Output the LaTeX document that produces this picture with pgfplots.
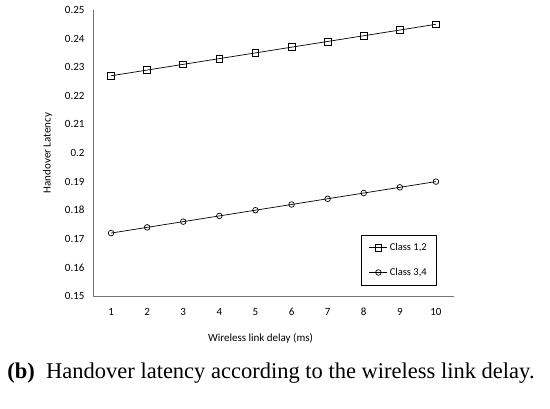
\documentclass[border=0pt]{standalone}
\usepackage{pgfplots}
\pgfplotsset{compat=1.18}
\usepackage{fontspec}
\setmainfont{Carlito}
\newfontfamily\capfont{Liberation Serif}
\begin{document}
\begin{tikzpicture}[x=1pt,y=1pt]
\path (-93,-112) rectangle (457,296);
\begin{axis}[
  at={(0pt,0pt)}, anchor=south west,
  scale only axis, width=361pt, height=286pt,
  xmin=0.5, xmax=10.5, ymin=0.15, ymax=0.25,
  xtick={1,...,10},
  ytick={0.15,0.16,0.17,0.18,0.19,0.2,0.21,0.22,0.23,0.24,0.25},
  yticklabels={0.15,0.16,0.17,0.18,0.19,0.2,0.21,0.22,0.23,0.24,0.25},
  axis x line*=bottom, axis y line*=left,
  axis line style={draw=black!55, line width=0.9pt, -},
  major tick length=0pt,
  /pgf/number format/assume math mode=true,
  tick label style={font=\fontsize{11}{13}\selectfont},
  xticklabel style={yshift=-8pt, text height=8pt, text depth=1pt},
  yticklabel style={xshift=-5pt},
  xlabel={Wireless link delay (ms)},
  ylabel={Handover Latency},
  label style={font=\fontsize{11}{13}\selectfont},
  xlabel style={at={(axis description cs:0.464,0)}, anchor=north, yshift=-34pt},
  ylabel style={at={(axis description cs:0,0.5)}, anchor=south, xshift=0pt, yshift=37pt},
  legend style={at={(0.953,0.038)}, anchor=south east, draw=black, line width=0.6pt,
    font=\fontsize{10.5}{12}\selectfont, row sep=12pt, inner xsep=8pt, inner ysep=6pt,
    cells={anchor=west}},
  legend image code/.code={\draw[mark repeat=2,mark phase=2] plot coordinates {(0cm,0cm) (0.32cm,0cm) (0.64cm,0cm)};},
]
\addplot[black, line width=0.7pt, mark=square, mark size=3.4pt, mark options={line width=0.7pt}]
 coordinates {(1,0.227)(2,0.229)(3,0.231)(4,0.233)(5,0.235)(6,0.237)(7,0.239)(8,0.241)(9,0.243)(10,0.245)};
\addlegendentry{Class 1,2}
\addplot[black, line width=0.7pt, mark=o, mark size=2.8pt, mark options={line width=0.7pt}]
 coordinates {(1,0.172)(2,0.174)(3,0.176)(4,0.178)(5,0.180)(6,0.182)(7,0.184)(8,0.186)(9,0.188)(10,0.190)};
\addlegendentry{Class 3,4}
\end{axis}
\node[font=\capfont\fontsize{22.5}{26}\selectfont] at (178,-77) {\textbf{(b)}\enspace Handover latency according to the wireless link delay.};
\end{tikzpicture}
\end{document}
